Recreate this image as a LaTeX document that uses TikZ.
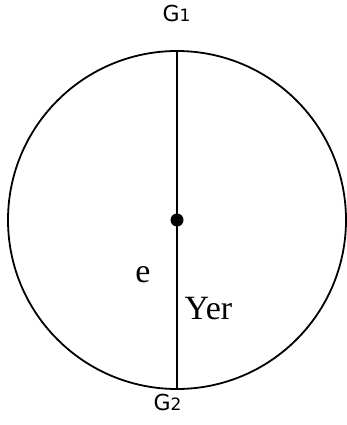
\documentclass[tikz,border=0pt]{standalone}
\usepackage{fontspec}
\setmainfont{Liberation Serif}
\newfontfamily\gfont{DejaVu Sans}
\begin{document}
\begin{tikzpicture}[x=1pt,y=-1pt,
  stroke/.style={line width=1.8pt},
  glabel/.style={font=\gfont\fontsize{22}{24}\selectfont, inner sep=0pt, anchor=base},
  serlabel/.style={font=\fontsize{34}{36}\selectfont, inner sep=0pt, anchor=base}]
\useasboundingbox (0,0) rectangle (346,425);
\node[draw, stroke, circle, minimum size=338pt, inner sep=0pt] (c) at (177,220) {};
\draw[line width=1.6pt] (c.north) -- (c.south);
\node[circle, fill=black, minimum size=13pt, inner sep=0pt] (dot) at (c.center) {};
\node[glabel] (g1) at (176.5,22) {G{\fontsize{17}{18}\selectfont 1}};
\node[glabel] (g2) at (167.5,410) {G{\fontsize{17}{18}\selectfont 2}};
\node[serlabel] (e) at (143,282) {e};
\node[serlabel] (yer) at (208.5,319) {Yer};
\end{tikzpicture}
\end{document}
